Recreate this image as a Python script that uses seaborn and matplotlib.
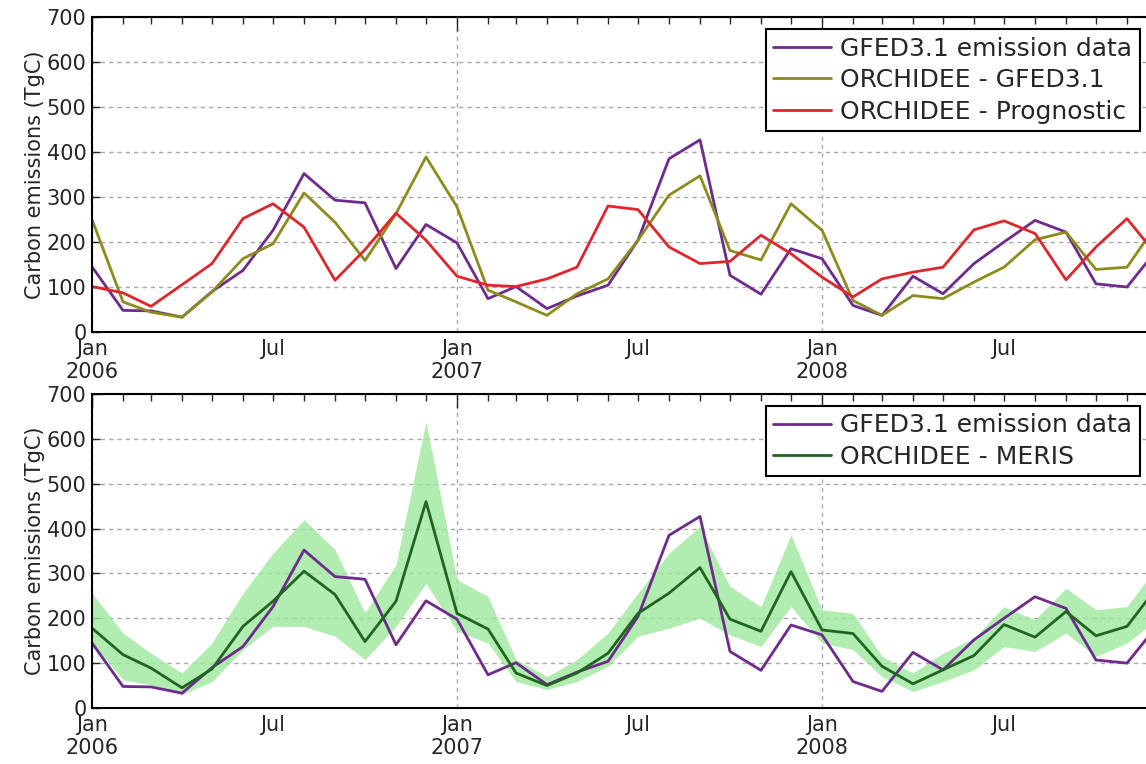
import numpy as np
import pandas as pd
import matplotlib
matplotlib.use("Agg")
import matplotlib.pyplot as plt
import matplotlib.dates as mdates
import matplotlib.ticker as mticker
import seaborn as sns

# monthly values Jan 2006 - Dec 2008 (TgC)
months = pd.date_range("2006-01-01", periods=36, freq="MS")

gfed = [145, 48, 47, 33, 90, 137, 226, 352, 293, 287, 141, 239,
        198, 74, 101, 52, 80, 104, 204, 385, 427, 126, 84, 185,
        163, 59, 37, 124, 85, 152, 200, 248, 222, 107, 100, 183]

orch_gfed = [250, 67, 44, 33, 89, 163, 196, 309, 244, 159, 263, 389,
             278, 93, 67, 37, 85, 118, 204, 304, 347, 181, 160, 285,
             226, 70, 37, 81, 74, 111, 144, 205, 222, 139, 144, 240]

orch_prog = [101, 87, 57, 105, 152, 252, 285, 233, 115, 183, 264, 204,
             124, 104, 101, 118, 144, 280, 272, 189, 152, 157, 215, 174,
             122, 78, 118, 133, 144, 227, 247, 219, 116, 189, 252, 170]

orch_meris = [178, 119, 89, 45, 87, 182, 238, 305, 253, 148, 238, 460,
              211, 176, 78, 50, 78, 122, 211, 256, 313, 198, 171, 304,
              174, 166, 93, 54, 85, 117, 186, 158, 215, 161, 182, 269]

meris_upper = [256, 167, 122, 78, 145, 256, 345, 420, 353, 212, 320, 638,
               286, 249, 108, 70, 108, 167, 256, 345, 405, 271, 226, 386,
               219, 211, 115, 78, 122, 156, 226, 197, 267, 219, 226, 315]

meris_lower = [145, 63, 52, 30, 59, 130, 182, 182, 160, 108, 182, 278,
               171, 145, 59, 41, 59, 93, 160, 178, 200, 163, 137, 226,
               145, 130, 70, 37, 59, 85, 137, 126, 167, 115, 145, 197]

c_purple = "#6e2a8c"
c_olive = "#8c8c1c"
c_red = "#e0262c"
c_green = "#1f651f"
c_band = "#9ee89c"

sns.set_style("white")
plt.rcParams["font.family"] = ["DejaVu Sans"]

fig = plt.figure(figsize=(11.46, 7.64), dpi=100)
W, H = 1146, 764
ax1 = fig.add_axes([92 / W, 1 - 332 / H, 1 - 92 / W, 315 / H])
ax2 = fig.add_axes([92 / W, 1 - 708 / H, 1 - 92 / W, 314 / H])

sns.lineplot(x=months, y=gfed, ax=ax1, color=c_purple, lw=2, label="GFED3.1 emission data")
sns.lineplot(x=months, y=orch_gfed, ax=ax1, color=c_olive, lw=2, label="ORCHIDEE - GFED3.1")
sns.lineplot(x=months, y=orch_prog, ax=ax1, color=c_red, lw=2, label="ORCHIDEE - Prognostic")

ax2.fill_between(months, meris_lower, meris_upper, color=c_band, alpha=0.8, lw=0)
sns.lineplot(x=months, y=gfed, ax=ax2, color=c_purple, lw=2, label="GFED3.1 emission data")
sns.lineplot(x=months, y=orch_meris, ax=ax2, color=c_green, lw=2, label="ORCHIDEE - MERIS")


def minor_fmt(x, pos):
    d = mdates.num2date(x)
    return "Jul" if d.month == 7 else ""


for ax in (ax1, ax2):
    ax.set_xlim(pd.Timestamp("2006-01-01"), pd.Timestamp("2008-11-20"))
    ax.set_ylim(0, 700)
    ax.set_yticks(range(0, 701, 100))
    ax.xaxis.set_major_locator(mdates.YearLocator())
    ax.xaxis.set_major_formatter(mdates.DateFormatter("%b\n%Y"))
    ax.xaxis.set_minor_locator(mdates.MonthLocator())
    ax.xaxis.set_minor_formatter(mticker.FuncFormatter(minor_fmt))
    ax.tick_params(axis="x", which="major", direction="in", length=10, width=1,
                   top=True, labelsize=15, pad=5)
    ax.tick_params(axis="x", which="minor", direction="in", length=5, width=1,
                   top=True, labelsize=15, pad=5)
    ax.tick_params(axis="y", which="major", direction="in", length=6, width=1,
                   left=True, right=False, labelsize=15, pad=4)
    ax.grid(True, which="major", ls=(0, (3, 3)), color="#a8a8a8", lw=1)
    ax.set_axisbelow(True)
    for side in ("left", "top", "bottom"):
        ax.spines[side].set_color("black")
        ax.spines[side].set_linewidth(1.5)
    ax.spines["right"].set_visible(False)
    ax.set_xlabel("")
    ax.set_ylabel("Carbon emissions (TgC)", fontsize=15, labelpad=1)
    leg = ax.legend(loc="upper right", bbox_to_anchor=(1 - 6 / 1054, 1 - 12 / 315),
                    borderaxespad=0, fontsize=18, frameon=True, fancybox=False,
                    edgecolor="black", framealpha=1, handlelength=2.3,
                    labelspacing=0.3, borderpad=0.3, handletextpad=0.4)
    leg.get_frame().set_linewidth(1.5)

fig.savefig("out.png", dpi=100)
